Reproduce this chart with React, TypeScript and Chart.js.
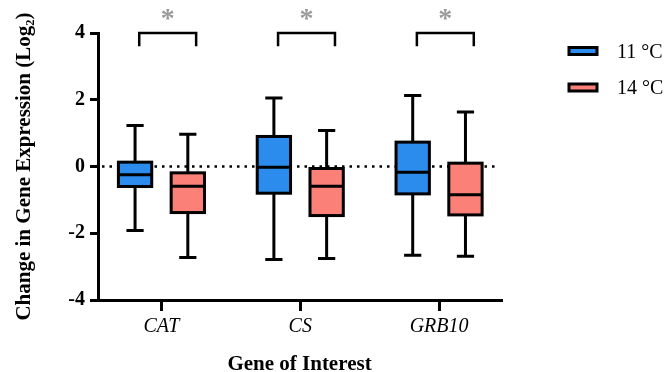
import React, { useEffect, useRef } from "react";
import { Chart, registerables } from "chart.js";

Chart.register(...registerables);

const categories = ["CAT", "CS", "GRB10"];
const seriesLabels = ["11 °C", "14 °C"];
const seriesColors = ["#2B8CEE", "#FA8078"];

// [min, q1, median, q3, max] per category
const box11 = [
  [-1.92, -0.6, -0.25, 0.13, 1.23],
  [-2.79, -0.8, -0.02, 0.9, 2.05],
  [-2.66, -0.82, -0.17, 0.73, 2.13],
];
const box14 = [
  [-2.73, -1.38, -0.59, -0.19, 0.97],
  [-2.76, -1.47, -0.59, -0.06, 1.08],
  [-2.69, -1.45, -0.85, 0.1, 1.63],
];
const yTicks = [-4, -2, 0, 2, 4];
const sigLabels = ["*", "*", "*"];
const sigLevel = 4;
const sigDrop = 3.6;

const SERIF = "'Liberation Serif', 'Times New Roman', serif";

const boxPlugin = {
  id: "boxPlugin",
  afterDatasetsDraw(chart: any) {
    const { ctx, scales, chartArea } = chart;
    const xs = scales.x;
    const ys = scales.y;
    ctx.save();
    // zero line
    ctx.beginPath();
    ctx.setLineDash([2.5, 5]);
    ctx.lineWidth = 2.5;
    ctx.strokeStyle = "#000";
    const y0 = ys.getPixelForValue(0);
    ctx.moveTo(chartArea.left + 4, y0);
    ctx.lineTo(chartArea.right - 6, y0);
    ctx.stroke();
    ctx.setLineDash([]);

    const offsets = [-0.19, 0.19];
    const halfBox = 0.12;
    const halfCap = 0.062;
    const all = [box11, box14];
    all.forEach((series, si) => {
      series.forEach((b, ci) => {
        const cx = ci + offsets[si];
        const px = xs.getPixelForValue(cx);
        const l = xs.getPixelForValue(cx - halfBox);
        const r = xs.getPixelForValue(cx + halfBox);
        const cl = xs.getPixelForValue(cx - halfCap);
        const cr = xs.getPixelForValue(cx + halfCap);
        const [mn, q1, md, q3, mx] = b.map((v: number) => ys.getPixelForValue(v));
        ctx.lineWidth = 3;
        ctx.strokeStyle = "#000";
        ctx.lineCap = "butt";
        // whiskers
        ctx.beginPath();
        ctx.moveTo(px, q3);
        ctx.lineTo(px, mx);
        ctx.moveTo(cl, mx);
        ctx.lineTo(cr, mx);
        ctx.moveTo(px, q1);
        ctx.lineTo(px, mn);
        ctx.moveTo(cl, mn);
        ctx.lineTo(cr, mn);
        ctx.stroke();
        // box
        ctx.fillStyle = seriesColors[si];
        ctx.fillRect(l, q3, r - l, q1 - q3);
        ctx.strokeRect(l, q3, r - l, q1 - q3);
        ctx.beginPath();
        ctx.moveTo(l, md);
        ctx.lineTo(r, md);
        ctx.stroke();
      });
    });

    // significance brackets
    sigLabels.forEach((s, ci) => {
      const l = xs.getPixelForValue(ci - 0.16);
      const r = xs.getPixelForValue(ci + 0.25);
      const top = ys.getPixelForValue(sigLevel);
      const bot = ys.getPixelForValue(sigDrop);
      ctx.beginPath();
      ctx.lineWidth = 2.5;
      ctx.strokeStyle = "#000";
      ctx.moveTo(l, bot);
      ctx.lineTo(l, top);
      ctx.lineTo(r, top);
      ctx.lineTo(r, bot);
      ctx.stroke();
      ctx.fillStyle = "#9a9a9a";
      ctx.font = `bold 28px ${SERIF}`;
      ctx.textAlign = "center";
      ctx.textBaseline = "middle";
      ctx.fillText(s, (l + r) / 2, top - 13);
    });

    // legend
    seriesLabels.forEach((lab, si) => {
      const yC = 51 + si * 36.5;
      ctx.fillStyle = seriesColors[si];
      ctx.fillRect(569, yC - 3.5, 28, 7);
      ctx.lineWidth = 3;
      ctx.strokeStyle = "#000";
      ctx.strokeRect(569, yC - 3.5, 28, 7);
      ctx.fillStyle = "#000";
      ctx.font = `20px ${SERIF}`;
      ctx.textAlign = "left";
      ctx.textBaseline = "middle";
      ctx.fillText(lab, 617, yC + 1.5);
    });
    ctx.restore();
  },
};

export default function App() {
  const ref = useRef<HTMLCanvasElement>(null);
  useEffect(() => {
    const chart = new Chart(ref.current!, {
      type: "scatter",
      data: {
        datasets: seriesLabels.map((lab, i) => ({
          label: lab,
          data: [],
          backgroundColor: seriesColors[i],
          borderColor: "#000",
        })),
      },
      options: {
        animation: false,
        responsive: false,
        maintainAspectRatio: false,
        layout: { padding: { top: 33, right: 166, left: 0, bottom: 0 } },
        plugins: { legend: { display: false }, tooltip: { enabled: false } },
        scales: {
          x: {
            type: "linear",
            min: -0.457,
            max: 2.446,
            afterBuildTicks: (s: any) => {
              s.ticks = categories.map((_, i) => ({ value: i }));
            },
            afterFit: (s: any) => {
              s.height = 72;
            },
            ticks: {
              callback: (v: any) => categories[v] ?? "",
              color: "#000",
              font: { family: SERIF, size: 20, style: "italic" },
              padding: 4,
              maxRotation: 0,
            },
            grid: {
              display: true,
              drawOnChartArea: false,
              drawTicks: true,
              tickLength: 11,
              lineWidth: 3,
              color: "#000",
            },
            border: { display: true, width: 3, color: "#000" },
            title: {
              display: true,
              text: "Gene of Interest",
              color: "#000",
              font: { family: SERIF, size: 21, weight: "bold", lineHeight: 0.72 },
              padding: { top: 0, bottom: 0 },
            },
          },
          y: {
            type: "linear",
            min: -4,
            max: 4,
            afterBuildTicks: (s: any) => {
              s.ticks = yTicks.map((v) => ({ value: v }));
            },
            afterFit: (s: any) => {
              s.width = 98;
            },
            ticks: {
              color: "#000",
              font: { family: SERIF, size: 20, weight: "bold" },
              padding: 5,
            },
            grid: {
              display: true,
              drawOnChartArea: false,
              drawTicks: true,
              tickLength: 8,
              lineWidth: 3,
              color: "#000",
            },
            border: { display: true, width: 3, color: "#000" },
            title: {
              display: true,
              text: "Change in Gene Expression (Log₂)",
              color: "#000",
              font: { family: SERIF, size: 21, weight: "bold" },
              padding: { top: 12, bottom: 0 },
            },
          },
        },
      },
      plugins: [boxPlugin],
    } as any);
    return () => chart.destroy();
  }, []);
  return (
    <div style={{ position: "fixed", left: 0, top: 0, width: 667, height: 372, background: "#fff" }}>
      <canvas ref={ref} width={667} height={372} style={{ display: "block" }} />
    </div>
  );
}
